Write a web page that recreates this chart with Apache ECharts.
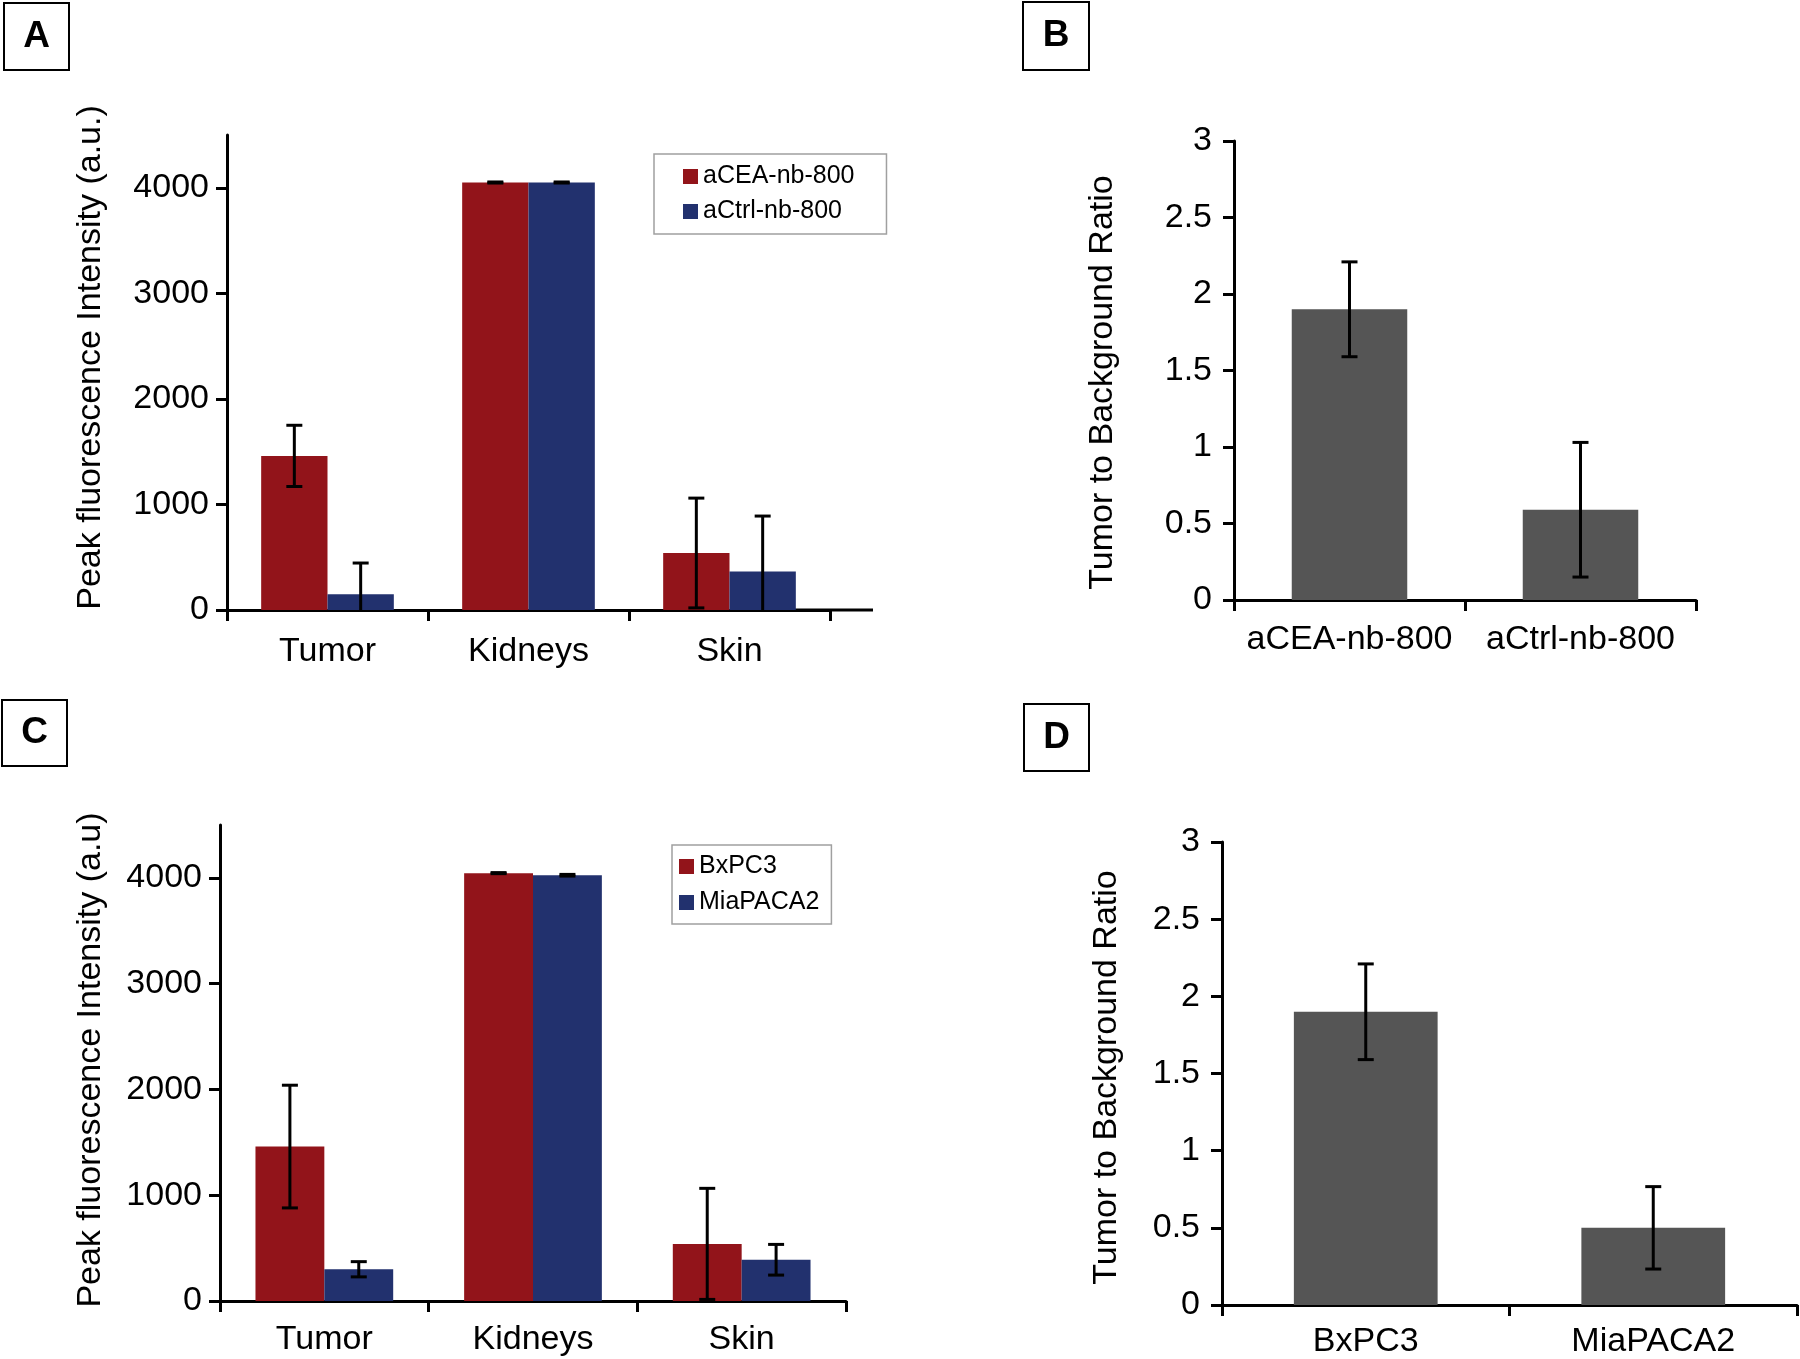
<!DOCTYPE html>
<html><head><meta charset="utf-8">
<script src="https://cdn.jsdelivr.net/npm/echarts@6/dist/echarts.min.js"></script>
<style>html,body{margin:0;padding:0;background:#fff}#c{width:1800px;height:1359px}</style>
</head><body><div id="c"></div>
<script>
// ---------- data ----------
const organs = ['Tumor', 'Kidneys', 'Skin'];
const fluorTicks = [0, 1000, 2000, 3000, 4000];
const ratioTicks = [0, 0.5, 1, 1.5, 2, 2.5, 3];

// Panel A
const aCEAValues = [1460, 4050, 540];
const aCEAErrors = [290, 5, 520];
const aCtrlValues = [150, 4050, 365];
const aCtrlErrors = [295, 5, 525];

// Panel B
const probes = ['aCEA-nb-800', 'aCtrl-nb-800'];
const probeRatios = [1.9, 0.59];
const probeRatioErrors = [0.31, 0.44];

// Panel C
const bxpc3Values = [1460, 4045, 540];
const bxpc3Errors = [580, 5, 525];
const miaValues = [300, 4025, 390];
const miaErrors = [72, 8, 145];

// Panel D
const cellLines = ['BxPC3', 'MiaPACA2'];
const cellRatios = [1.9, 0.5];
const cellRatioErrors = [0.31, 0.267];

// ---------- styling ----------
const RED = '#92141a', BLUE = '#22316e', GRAY = '#555555';
const FONT = '"Liberation Sans", Arial, Helvetica, sans-serif';
const AX = { color: '#000', width: 3 };

function errRender(offsetFrac) {
  return function (params, api) {
    const i = api.value(0), v = api.value(1), e = api.value(2);
    const band = api.size([1, 0])[0];
    const x = api.coord([i, v])[0] + offsetFrac * band;
    const yT = api.coord([i, v + e])[1];
    const yB = api.coord([i, v - e])[1];
    const cw = 16;
    const st = { stroke: '#000', lineWidth: 3 };
    return {
      type: 'group', children: [
        { type: 'line', shape: { x1: x, y1: yT, x2: x, y2: yB }, style: st },
        { type: 'line', shape: { x1: x - cw / 2, y1: yT, x2: x + cw / 2, y2: yT }, style: st },
        { type: 'line', shape: { x1: x - cw / 2, y1: yB, x2: x + cw / 2, y2: yB }, style: st }
      ]
    };
  };
}
function errData(vals, errs) { return vals.map((v, i) => [i, v, errs[i]]); }

function xAx(grid, cats, labelMargin, ext) {
  const line = { show: true, lineStyle: AX };
  if (ext) { line.symbol = ['none', 'rect']; line.symbolSize = [3, ext * 2]; line.symbolOffset = [0, 0]; }
  return {
    type: 'category', gridIndex: grid, data: cats,
    axisLine: line,
    axisTick: { show: true, length: 11, lineStyle: AX },
    axisLabel: { color: '#000', fontSize: 34, fontFamily: FONT, margin: labelMargin, interval: 0 },
    splitLine: { show: false }
  };
}
function yAx(grid, max, ticks, name, nameGap, pad, labelMargin) {
  return {
    type: 'value', gridIndex: grid, min: 0, max: max,
    name: name, nameLocation: 'middle', nameGap: nameGap,
    nameTextStyle: { color: '#000', fontSize: 34, fontFamily: FONT, padding: pad },
    axisLine: { show: true, lineStyle: AX },
    axisTick: { show: true, length: 11, lineStyle: AX, customValues: ticks },
    axisLabel: { color: '#000', fontSize: 34, fontFamily: FONT, margin: labelMargin,
      customValues: ticks, formatter: v => String(v) },
    splitLine: { show: false }
  };
}

function panelLabel(x, y, w, h, t) {
  return [
    { type: 'rect', shape: { x: x, y: y, width: w, height: h }, style: { fill: '#fff', stroke: '#000', lineWidth: 2 } },
    { type: 'text', x: x + w / 2, y: y + h / 2, style: { text: t, fill: '#000', font: 'bold 37px ' + FONT, align: 'center', verticalAlign: 'middle' } }
  ];
}

const option = {
  backgroundColor: '#fff',
  animation: false,
  textStyle: { fontFamily: FONT },
  grid: [
    { left: 227, top: 135, width: 603, height: 475 },
    { left: 1234, top: 141, width: 462, height: 459 },
    { left: 220, top: 825, width: 626, height: 476 },
    { left: 1222, top: 842, width: 575, height: 463 }
  ],
  xAxis: [
    xAx(0, organs, 25, 43),
    xAx(1, probes, 23, 0),
    xAx(2, organs, 22, 0),
    xAx(3, cellLines, 20, 0)
  ],
  yAxis: [
    yAx(0, 4500, fluorTicks, 'Peak fluorescence Intensity (a.u.)', 119, [0, 0, 0, 30], 18),
    yAx(1, 3, ratioTicks, 'Tumor to Background Ratio', 114, [0, 24, 0, 0], 22),
    yAx(2, 4500, fluorTicks, 'Peak fluorescence Intensity (a.u)', 112, [0, 0, 0, 6], 18),
    yAx(3, 3, ratioTicks, 'Tumor to Background Ratio', 98, [0, 8, 0, 0], 22)
  ],
  legend: [
    { data: ['aCEA-nb-800', 'aCtrl-nb-800'], orient: 'vertical', left: 654, top: 154,
      padding: [10, 32, 10, 29], itemGap: 10, itemWidth: 15, itemHeight: 15, icon: 'rect',
      borderColor: '#a0a0a0', borderWidth: 1.5, backgroundColor: '#fff',
      textStyle: { color: '#000', fontSize: 25, fontFamily: FONT } },
    { data: ['BxPC3', 'MiaPACA2'], orient: 'vertical', left: 672, top: 845,
      padding: [9, 12, 9, 7], itemGap: 11, itemWidth: 15, itemHeight: 15, icon: 'rect',
      borderColor: '#a0a0a0', borderWidth: 1.5, backgroundColor: '#fff',
      textStyle: { color: '#000', fontSize: 25, fontFamily: FONT } }
  ],
  series: [
    { name: 'aCEA-nb-800', type: 'bar', xAxisIndex: 0, yAxisIndex: 0, data: aCEAValues,
      itemStyle: { color: RED }, barGap: '0%', barCategoryGap: '34%' },
    { name: 'aCtrl-nb-800', type: 'bar', xAxisIndex: 0, yAxisIndex: 0, data: aCtrlValues,
      itemStyle: { color: BLUE }, barGap: '0%', barCategoryGap: '34%' },
    { type: 'custom', xAxisIndex: 0, yAxisIndex: 0, clip: true, z: 10, renderItem: errRender(-0.165), data: errData(aCEAValues, aCEAErrors) },
    { type: 'custom', xAxisIndex: 0, yAxisIndex: 0, clip: true, z: 10, renderItem: errRender(0.165), data: errData(aCtrlValues, aCtrlErrors) },

    { name: 'ratioB', type: 'bar', xAxisIndex: 1, yAxisIndex: 1, data: probeRatios,
      itemStyle: { color: GRAY }, barWidth: '50%' },
    { type: 'custom', xAxisIndex: 1, yAxisIndex: 1, clip: true, z: 10, renderItem: errRender(0), data: errData(probeRatios, probeRatioErrors) },

    { name: 'BxPC3', type: 'bar', xAxisIndex: 2, yAxisIndex: 2, data: bxpc3Values,
      itemStyle: { color: RED }, barGap: '0%', barCategoryGap: '34%' },
    { name: 'MiaPACA2', type: 'bar', xAxisIndex: 2, yAxisIndex: 2, data: miaValues,
      itemStyle: { color: BLUE }, barGap: '0%', barCategoryGap: '34%' },
    { type: 'custom', xAxisIndex: 2, yAxisIndex: 2, clip: true, z: 10, renderItem: errRender(-0.165), data: errData(bxpc3Values, bxpc3Errors) },
    { type: 'custom', xAxisIndex: 2, yAxisIndex: 2, clip: true, z: 10, renderItem: errRender(0.165), data: errData(miaValues, miaErrors) },

    { name: 'ratioD', type: 'bar', xAxisIndex: 3, yAxisIndex: 3, data: cellRatios,
      itemStyle: { color: GRAY }, barWidth: '50%' },
    { type: 'custom', xAxisIndex: 3, yAxisIndex: 3, clip: true, z: 10, renderItem: errRender(0), data: errData(cellRatios, cellRatioErrors) }
  ],
  graphic: [].concat(
    panelLabel(4, 3, 65, 67, 'A'),
    panelLabel(1023, 2, 66, 68, 'B'),
    panelLabel(2, 700, 65, 66, 'C'),
    panelLabel(1024, 704, 65, 67, 'D')
  )
};
const chart = echarts.init(document.getElementById('c'), null, { renderer: 'canvas' });
chart.setOption(option);
</script>
</body></html>
